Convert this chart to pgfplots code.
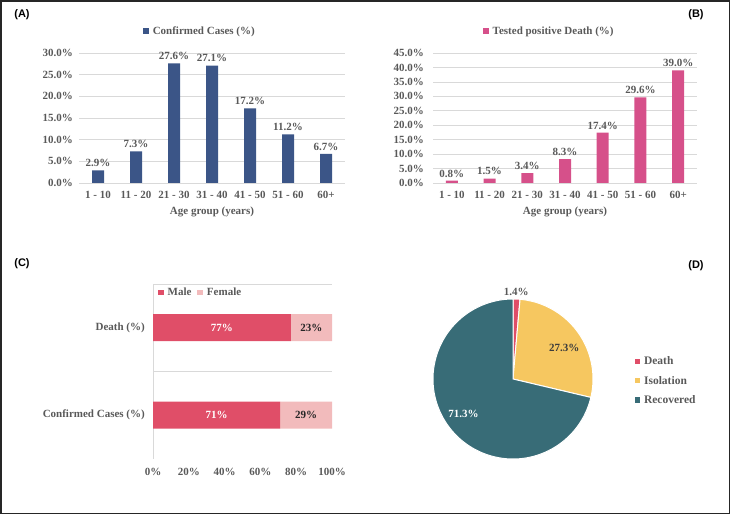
\documentclass[border=0pt]{standalone}
\usepackage{pgfplots}
\pgfplotsset{compat=1.18}
\usepackage{pgfplotstable}
\usepackage{fontspec}
\setmainfont{Liberation Serif}
\newfontfamily\arialf{Liberation Sans}
\definecolor{txtgray}{HTML}{595959}
\definecolor{darktxt}{HTML}{262626}
\definecolor{gridc}{HTML}{D9D9D9}
\definecolor{navy}{HTML}{3B5587}
\definecolor{pinkb}{HTML}{D6508A}
\definecolor{malec}{HTML}{E04E68}
\definecolor{femalec}{HTML}{F2BBBC}
\definecolor{isoc}{HTML}{F6C760}
\definecolor{recc}{HTML}{386C77}
\newcommand\lf{\fontsize{11bp}{13bp}\selectfont\bfseries}

\pgfplotstableread{
x y
0 2.9
1 7.3
2 27.6
3 27.1
4 17.2
5 11.2
6 6.7
}\tableA

\pgfplotstableread{
x y
0 0.8
1 1.5
2 3.4
3 8.3
4 17.4
5 29.6
6 39.0
}\tableB

\pgfplotsset{
  /pgf/number format/assume math mode=true,
  sqlegend/.style={legend image code/.code={\fill[##1, draw=none] (0bp,-2.5bp) rectangle (5.5bp,3bp); \path (7.5bp,0bp);}},
  panelbar/.style={
    scale only axis, anchor=south west, ybar, bar width=12bp,
    xmin=-0.5, xmax=6.5, ymin=0,
    xtick={0,...,6},
    xticklabels={1 - 10,11 - 20,21 - 30,31 - 40,41 - 50,51 - 60,60+},
    ymajorgrids, grid style={gridc, line width=0.75bp},
    axis line style={draw=none}, major tick length=0pt,
    tick label style={font=\lf, text=txtgray},
    xticklabel style={anchor=base, yshift=-16bp},
    yticklabel style={anchor=east, inner sep=0pt},
    yticklabel={\pgfmathprintnumber[fixed,fixed zerofill,precision=1]{\tick}\%},
    xlabel={Age group (years)},
    xlabel style={font=\lf, text=txtgray, at={(axis description cs:0.5,0)}, anchor=base, yshift=-32bp},
    nodes near coords={\pgfmathprintnumber[fixed,fixed zerofill,precision=1]{\pgfplotspointmeta}\%},
    nodes near coords style={font=\lf, text=txtgray},
    legend style={anchor=south, yshift=13bp, draw=none, fill=none, font=\lf, text=txtgray},
    sqlegend,
    clip=false,
  },
}

\begin{document}
\begin{tikzpicture}
\useasboundingbox (0,0) rectangle (731bp,515bp);
\draw[darktxt, line width=1.5bp] (1bp,1.5bp) rectangle (729.5bp,514bp);

% Panel A
\begin{axis}[panelbar, at={(79bp,332bp)}, width=266bp, height=130bp,
  ymax=30, ytick={0,5,...,30}, yticklabel style={xshift=-6bp},
  legend style={at={(0.455,1)}}]
\addplot[fill=navy, draw=none] table[x=x, y=y] {\tableA};
\addlegendentry{Confirmed Cases (\%)}
\end{axis}

% Panel B
\begin{axis}[panelbar, at={(433bp,332bp)}, width=264bp, height=130bp,
  ymax=45, ytick={0,5,...,45}, yticklabel style={xshift=-9bp},
  legend style={at={(0.441,1)}}]
\addplot[fill=pinkb, draw=none] table[x=x, y=y] {\tableB};
\addlegendentry{Tested positive Death (\%)}
\end{axis}

% Panel C
\begin{axis}[at={(153bp,56bp)}, anchor=south west, scale only axis, width=179bp, height=175bp,
  xbar stacked, bar width=27bp, xmin=0, xmax=100, ymin=-0.5, ymax=1.5,
  ytick={0,1}, yticklabels={Confirmed Cases (\%), Death (\%)},
  extra y ticks={0.5,1.5}, extra y tick labels={},
  extra y tick style={ymajorgrids=true, grid style={gridc, line width=0.75bp}},
  xtick={0,20,...,100}, xticklabel={\pgfmathprintnumber{\tick}\%},
  axis x line*=bottom, axis y line*=left,
  x axis line style={draw=none}, y axis line style={draw=gridc, line width=0.75bp},
  major tick length=0pt,
  tick label style={font=\lf, text=txtgray},
  yticklabel style={anchor=east, inner sep=0pt, xshift=-8bp},
  xticklabel style={anchor=base, yshift=-17bp},
  legend style={at={(0,1)}, anchor=north west, xshift=2bp, yshift=0bp, draw=none, fill=none,
    font=\lf, text=txtgray, /tikz/every even column/.append style={column sep=4bp}},
  legend columns=2,
  sqlegend,
  clip=false]
\addplot[fill=malec, draw=none] coordinates {(71,0) (77,1)};
\addlegendentry{Male}
\addplot[fill=femalec, draw=none] coordinates {(29,0) (23,1)};
\addlegendentry{Female}
\end{axis}
\begin{axis}[at={(153bp,56bp)}, anchor=south west, scale only axis, width=179bp, height=175bp,
  xmin=0, xmax=100, ymin=-0.5, ymax=1.5, hide axis, clip=false]
\addplot[draw=none, nodes near coords, point meta=explicit symbolic,
  nodes near coords style={anchor=center, font=\lf, text=white}]
  coordinates {(35.5,0)[71\%] (38.5,1)[77\%]};
\addplot[draw=none, nodes near coords, point meta=explicit symbolic,
  nodes near coords style={anchor=center, font=\lf, text=darktxt}]
  coordinates {(85.5,0)[29\%] (88.5,1)[23\%]};
\end{axis}

% Panel D
\begin{axis}[at={(513bp,136bp)}, anchor=center, scale only axis, width=160bp, height=160bp,
  xmin=-1, xmax=1, ymin=-1, ymax=1, hide axis, clip=false,
  legend style={at={(1.24,0.665)}, anchor=north west, draw=none, fill=none,
    font=\fontsize{11.5bp}{13bp}\selectfont\bfseries, text=txtgray, row sep=6bp},
  legend cell align=left,
  sqlegend]
\addlegendimage{fill=malec, draw=none}
\addlegendentry{Death}
\addlegendimage{fill=isoc, draw=none}
\addlegendentry{Isolation}
\addlegendimage{fill=recc, draw=none}
\addlegendentry{Recovered}
\fill[malec, draw=white, line width=1bp] (axis cs:0,0) -- ++(90:80bp)
  arc[start angle=90, delta angle={-1.4*3.6}, radius=80bp] -- cycle;
\fill[isoc, draw=white, line width=1bp] (axis cs:0,0) -- ++({90-1.4*3.6}:80bp)
  arc[start angle={90-1.4*3.6}, delta angle={-27.3*3.6}, radius=80bp] -- cycle;
\fill[recc, draw=white, line width=1bp] (axis cs:0,0) -- ++({90-28.7*3.6}:80bp)
  arc[start angle={90-28.7*3.6}, delta angle={-71.3*3.6}, radius=80bp] -- cycle;
\addplot[draw=none, forget plot, nodes near coords, point meta=explicit symbolic,
  nodes near coords style={anchor=center, font=\lf, text=txtgray}]
  coordinates {(0.04,1.09)[1.4\%]};
\addplot[draw=none, forget plot, nodes near coords, point meta=explicit symbolic,
  nodes near coords style={anchor=center, font=\lf, text=darktxt!90}]
  coordinates {(0.64,0.39)[27.3\%]};
\addplot[draw=none, forget plot, nodes near coords, point meta=explicit symbolic,
  nodes near coords style={anchor=center, font=\lf, text=white}]
  coordinates {(-0.62,-0.44)[71.3\%]};
\end{axis}

% panel letters
\node[font=\arialf\fontsize{11bp}{13bp}\selectfont\bfseries] at (22bp,500bp) {(A)};
\node[font=\arialf\fontsize{11bp}{13bp}\selectfont\bfseries] at (696bp,500bp) {(B)};
\node[font=\arialf\fontsize{11bp}{13bp}\selectfont\bfseries] at (22bp,251bp) {(C)};
\node[font=\arialf\fontsize{11bp}{13bp}\selectfont\bfseries] at (696bp,249bp) {(D)};
\end{tikzpicture}
\end{document}
